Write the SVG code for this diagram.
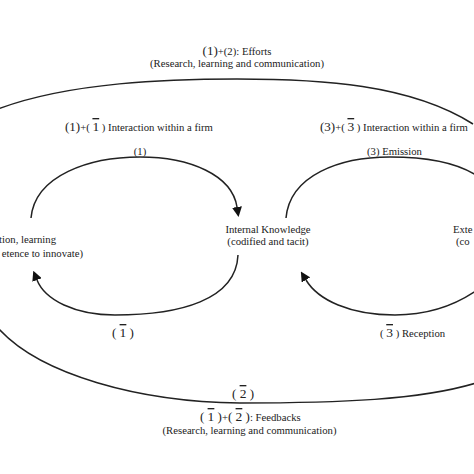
<svg xmlns="http://www.w3.org/2000/svg" width="474" height="474" viewBox="0 0 474 474">
<style>
text{font-family:"Liberation Serif","Times New Roman",serif;font-size:10.7px;fill:#222}
.big{font-size:13px}
.ob{font-size:13.5px;text-decoration:overline}
.mid{text-anchor:middle}
.end{text-anchor:end}
.c{fill:none;stroke:#222;stroke-width:1.5}
</style>
<defs>
<marker id="arr" viewBox="0 0 10 10" refX="0" refY="5" markerWidth="10" markerHeight="10" markerUnits="userSpaceOnUse" orient="auto">
<path d="M0,0 L10,5 L0,10 z" fill="#111"/>
</marker>
</defs>
<rect width="474" height="474" fill="#fff"/>
<g id="connectors">
<path id="efforts" class="c" d="M -2 109 C 70 82, 170 79, 237 79 C 320 79, 410 84, 473 124"/>
<path id="feedbacks" class="c" d="M -2 328 C 40 375, 140 402, 240 403 C 340 403, 420 400, 476 383"/>
<path id="c1" class="c" marker-end="url(#arr)" d="M 31 218 C 35 175, 90 157, 140 157 C 190 157, 232 175, 237 207"/>
<path id="c1bar" class="c" marker-end="url(#arr)" d="M 238 255 C 236 300, 180 315, 115 315 C 75 315, 45 300, 37 280"/>
<path id="c3" class="c" d="M 286 218 C 290 175, 340 157, 390 157 C 430 157, 460 163, 480 178"/>
<path id="c3bar" class="c" marker-end="url(#arr)" d="M 480 288 C 450 310, 420 315, 395 315 C 350 315, 318 300, 306 280"/>
</g>
<g id="node-innovation">
<text class="end" x="56" y="243">tion, learning</text>
<text class="end" x="83" y="257">etence to innovate)</text>
</g>
<g id="node-internal">
<text class="mid" x="268" y="233">Internal Knowledge</text>
<text class="mid" x="268" y="245">(codified and tacit)</text>
</g>
<g id="node-external">
<text x="453" y="233">Exte</text>
<text x="456" y="245">(co</text>
</g>
<g id="labels">
<text class="mid" x="237" y="55"><tspan class="big">(1)</tspan>+(2): Efforts</text>
<text class="mid" x="237" y="67">(Research, learning and communication)</text>
<text x="65" y="131"><tspan class="big">(1)</tspan>+( <tspan class="ob">1</tspan> ) Interaction within a firm</text>
<text x="320" y="131"><tspan class="big">(3)</tspan>+( <tspan class="ob">3</tspan> ) Interaction within a firm</text>
<text class="mid" x="140" y="155">(1)</text>
<text x="367" y="155">(3) Emission</text>
<text x="112" y="337"><tspan class="big">( </tspan><tspan class="ob">1</tspan><tspan class="big"> )</tspan></text>
<text x="380" y="337">( <tspan class="ob">3</tspan> ) Reception</text>
<text class="mid" x="243" y="398"><tspan class="big">( </tspan><tspan class="ob">2</tspan><tspan class="big"> )</tspan></text>
<text x="200" y="421"><tspan class="big">( </tspan><tspan class="ob">1</tspan><tspan class="big"> )</tspan>+<tspan class="big">( </tspan><tspan class="ob">2</tspan><tspan class="big"> )</tspan>: Feedbacks</text>
<text class="mid" x="249.5" y="434">(Research, learning and communication)</text>
</g>
</svg>
